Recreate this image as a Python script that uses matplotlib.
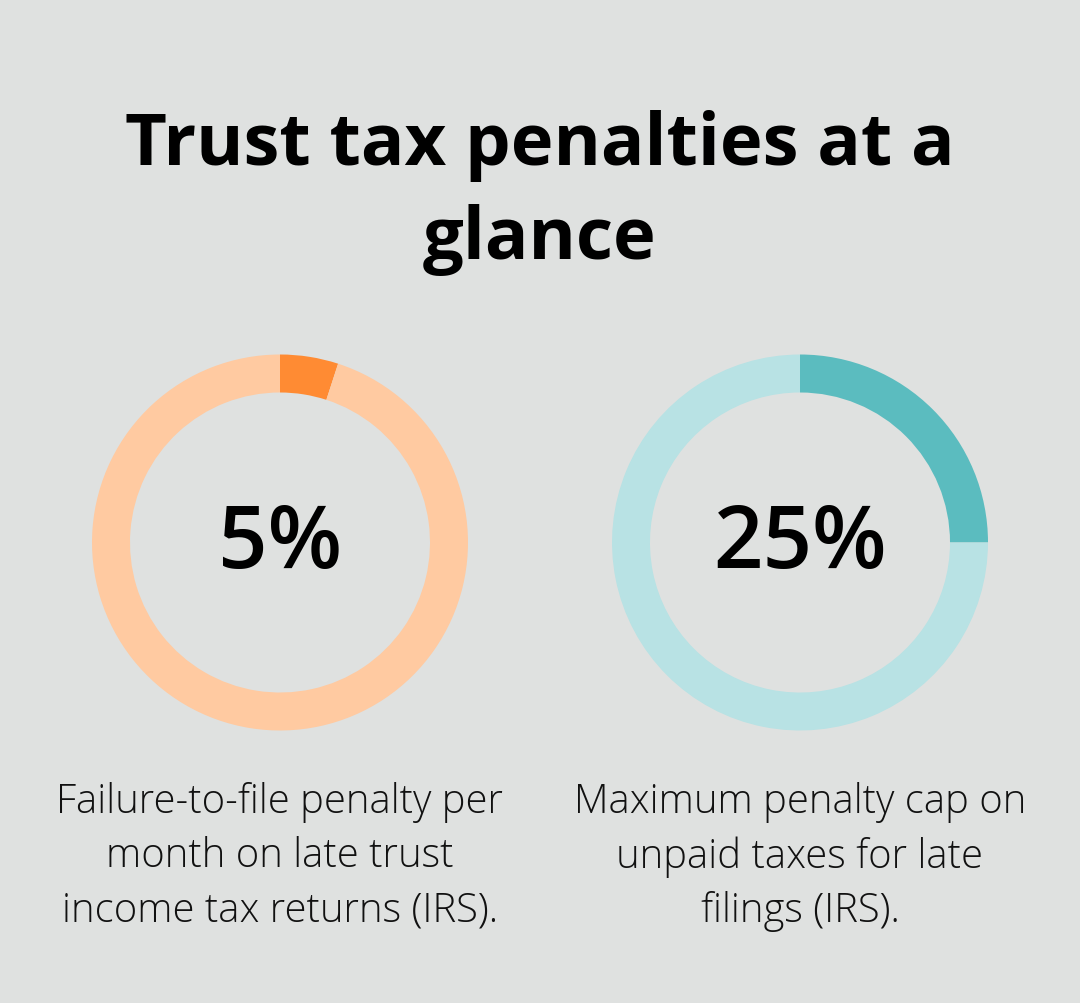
import matplotlib.pyplot as plt

# Chart values
values = [5, 25]
value_labels = ["5%", "25%"]
captions = [
    "Failure-to-file penalty per\nmonth on late trust\nincome tax returns (IRS).",
    "Maximum penalty cap on\nunpaid taxes for late\nfilings (IRS).",
]
dark_colors = ["#FF8B33", "#5BBCBF"]
light_colors = ["#FFCAA1", "#B8E2E4"]
title = "Trust tax penalties at a\nglance"

W, H = 1080, 1004
bg = "#DFE1E0"
plt.rcParams['font.family'] = ['Open Sans', 'DejaVu Sans']

fig = plt.figure(figsize=(W / 100, H / 100), dpi=100)
fig.patch.set_facecolor(bg)

fig.text(0.5, 1 - 193 / H, title, ha="center", va="center", fontsize=52,
         fontweight="bold", color="#000000", linespacing=1.41)

centers_x = [280, 800]
cy = 543.5
r = 188
for i, v in enumerate(values):
    ax = fig.add_axes([(centers_x[i] - r) / W, (H - cy - r) / H, 2 * r / W, 2 * r / H])
    ax.pie([v, 100 - v], colors=[dark_colors[i], light_colors[i]], startangle=90,
           counterclock=False, radius=1, wedgeprops=dict(width=38 / r, linewidth=0))
    ax.set_xlim(-1, 1)
    ax.set_ylim(-1, 1)
    ax.set_aspect("equal")
    ax.axis("off")
    ax.text(0, -0.01, value_labels[i], ha="center", va="center", fontsize=62.5,
            fontweight="semibold", color="#000000")
    fig.text(centers_x[i] / W, 1 - 857 / H, captions[i], ha="center", va="center",
             fontsize=28.8, fontweight="light", color="#111111", linespacing=1.43)

fig.savefig("out.png", dpi=100, facecolor=bg)
